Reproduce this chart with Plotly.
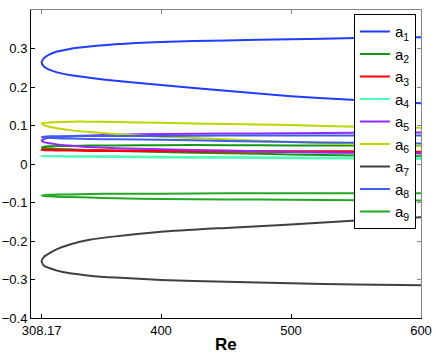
import plotly.graph_objects as go

# Reynolds number grid (shared by all branches)
re = [308.17, 310, 314, 320, 330, 345, 365, 400, 450, 500, 550, 600]

# upper / lower branches of each coefficient, meeting at the fold Re = 308.17
a1_up = [0.264, 0.275, 0.284, 0.292, 0.299, 0.305, 0.311, 0.317, 0.321, 0.324, 0.327, 0.329]
a1_lo = [0.264, 0.253, 0.245, 0.238, 0.231, 0.224, 0.216, 0.205, 0.190, 0.176, 0.166, 0.158]
a2_up = [0.043, 0.045, 0.046, 0.047, 0.047, 0.048, 0.048, 0.049, 0.049, 0.048, 0.048, 0.047]
a2_lo = [0.043, 0.041, 0.040, 0.039, 0.038, 0.036, 0.034, 0.031, 0.028, 0.025, 0.022, 0.020]
a3_up = [0.037, 0.037, 0.037, 0.037, 0.036, 0.036, 0.035, 0.035, 0.034, 0.033, 0.033, 0.032]
a3_lo = [0.037, 0.036, 0.036, 0.035, 0.035, 0.034, 0.034, 0.033, 0.032, 0.031, 0.030, 0.029]
a4_up = [0.021, 0.021, 0.021, 0.021, 0.020, 0.020, 0.020, 0.019, 0.018, 0.017, 0.016, 0.016]
a4_lo = [0.021, 0.020, 0.020, 0.020, 0.019, 0.019, 0.018, 0.017, 0.016, 0.015, 0.014, 0.013]
a5_up = [0.061, 0.065, 0.068, 0.070, 0.072, 0.074, 0.076, 0.078, 0.079, 0.080, 0.081, 0.082]
a5_lo = [0.061, 0.057, 0.054, 0.051, 0.048, 0.044, 0.041, 0.038, 0.035, 0.031, 0.029, 0.027]
a6_up = [0.105, 0.107, 0.108, 0.109, 0.110, 0.110, 0.109, 0.107, 0.104, 0.101, 0.097, 0.094]
a6_lo = [0.105, 0.101, 0.097, 0.093, 0.088, 0.083, 0.078, 0.071, 0.064, 0.057, 0.051, 0.046]
a7_up = [-0.253, -0.241, -0.232, -0.221, -0.209, -0.197, -0.188, -0.176, -0.166, -0.157, -0.147, -0.138]
a7_lo = [-0.253, -0.264, -0.270, -0.277, -0.284, -0.290, -0.295, -0.301, -0.306, -0.310, -0.313, -0.315]
a8_up = [0.070, 0.071, 0.072, 0.072, 0.072, 0.073, 0.073, 0.073, 0.074, 0.074, 0.074, 0.074]
a8_lo = [0.070, 0.069, 0.068, 0.067, 0.066, 0.065, 0.064, 0.063, 0.060, 0.057, 0.055, 0.053]
a9_up = [-0.082, -0.081, -0.080, -0.079, -0.079, -0.078, -0.077, -0.077, -0.076, -0.076, -0.076, -0.076]
a9_lo = [-0.082, -0.083, -0.084, -0.085, -0.086, -0.087, -0.089, -0.091, -0.092, -0.093, -0.094, -0.095]

names = ["a<sub>%d</sub>" % i for i in range(1, 10)]
uppers = [a1_up, a2_up, a3_up, a4_up, a5_up, a6_up, a7_up, a8_up, a9_up]
lowers = [a1_lo, a2_lo, a3_lo, a4_lo, a5_lo, a6_lo, a7_lo, a8_lo, a9_lo]
colors = ["#1f3cff", "#149614", "#ff0000", "#4dffb8", "#9428ff",
          "#bed600", "#404040", "#3c5ff0", "#22a822"]

xticks = [308.17, 400, 500, 600]
xticklabels = ["308.17", "400", "500", "600"]
yticks = [0.3, 0.2, 0.1, 0, -0.1, -0.2, -0.3, -0.4]
yticklabels = ["0.3", "0.2", "0.1", "0", "\u22120.1", "\u22120.2", "\u22120.3", "\u22120.4"]

fig = go.Figure()
for name, up, lo, c in zip(names, uppers, lowers, colors):
    xs = re[::-1] + re[1:]
    ys = lo[::-1] + up[1:]
    fig.add_trace(go.Scatter(x=xs, y=ys, mode="lines", name=name,
                             line=dict(color=c, width=2, shape="spline", smoothing=0.6)))

font = "Liberation Sans, Arial, sans-serif"
fig.update_layout(
    width=436, height=357,
    margin=dict(l=31, r=15, t=10, b=39),
    paper_bgcolor="white", plot_bgcolor="white",
    font=dict(family=font, size=13, color="black"),
    showlegend=True,
    legend=dict(x=0.987, y=0.986, xanchor="right", yanchor="top",
                bgcolor="white", bordercolor="black", borderwidth=1,
                font=dict(size=15), itemwidth=30, tracegroupgap=0),
    xaxis=dict(range=[300, 600], tickvals=xticks, ticktext=xticklabels,
               showline=True, linecolor="black", linewidth=1, mirror=False,
               ticks="inside", ticklen=4, tickcolor="black", showgrid=False,
               zeroline=False, automargin=False),
    yaxis=dict(range=[-0.4, 0.4], tickvals=yticks, ticktext=yticklabels,
               showline=True, linecolor="black", linewidth=1, mirror=False,
               ticks="inside", ticklen=4, tickcolor="black", showgrid=False,
               zeroline=False, automargin=False),
    xaxis2=dict(range=[300, 600], tickvals=xticks, overlaying="x", side="top",
                anchor="y", showticklabels=False, showline=True,
                linecolor="#888888", ticks="inside", ticklen=4,
                tickcolor="#888888", showgrid=False, zeroline=False,
                automargin=False),
    yaxis2=dict(range=[-0.4, 0.4], tickvals=yticks, overlaying="y", side="right",
                anchor="x", showticklabels=False, showline=True,
                linecolor="#888888", ticks="inside", ticklen=4,
                tickcolor="#888888", showgrid=False, zeroline=False,
                automargin=False),
    annotations=[dict(text="<b>Re</b>", x=0.5, y=-0.085, xref="paper", yref="paper",
                      xanchor="center", yanchor="middle", showarrow=False,
                      font=dict(size=17, color="black"))],
)
# invisible trace to activate the mirrored top/right axes
fig.add_trace(go.Scatter(x=[300], y=[0], xaxis="x2", yaxis="y2", mode="markers",
                         marker=dict(opacity=0), showlegend=False, hoverinfo="skip"))
fig.write_html("out.html", config={"displayModeBar": False},
               post_script="document.body.style.margin='0';"
                           "document.documentElement.style.overflow='hidden';")
